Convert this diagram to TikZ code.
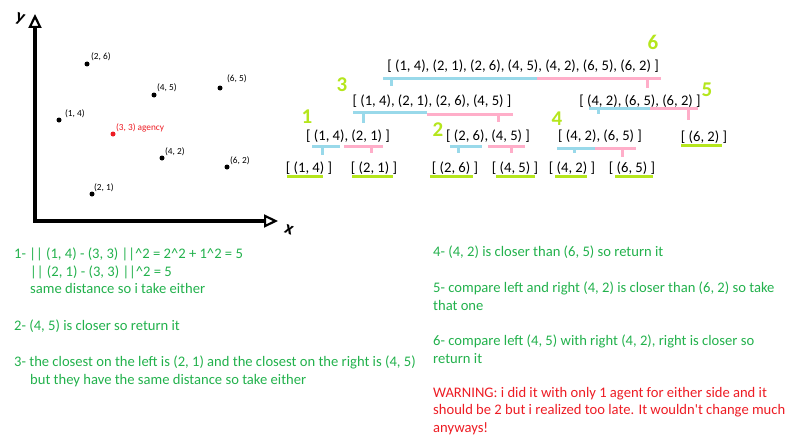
\documentclass[tikz,border=0pt]{standalone}
\usepackage{fontspec}
\setmainfont{Carlito}
\usetikzlibrary{arrows.meta,positioning}
\definecolor{notegreen}{RGB}{34,177,76}
\definecolor{warnred}{RGB}{237,28,36}
\definecolor{lime}{RGB}{181,230,29}
\definecolor{lineblue}{RGB}{153,217,234}
\definecolor{linepink}{RGB}{255,174,201}
\tikzset{
    dot/.style={circle, fill=black, inner sep=0pt, minimum size=5pt},
    ptlabel/.style={inner sep=0pt, font=\fontsize{9.3}{11}\selectfont},
    listnode/.style={inner sep=0pt, font=\fontsize{14.6}{17.5}\selectfont},
    note/.style={inner sep=0pt, anchor=north west, align=left, text=notegreen, font=\fontsize{14.6}{17.5}\selectfont},
    stepnum/.style={inner sep=0pt, text=lime, font=\fontsize{21}{21}\bfseries\selectfont},
    leftpart/.style={lineblue, line width=3pt},
    rightpart/.style={linepink, line width=3pt},
    leafline/.style={lime, line width=3pt},
    axis/.style={line width=3.5pt,
        {Triangle[open, length=14pt, width=13pt, line width=2.2pt]}-{Triangle[open, length=14pt, width=13pt, line width=2.2pt]}},
    axislabel/.style={inner sep=0pt, font=\fontsize{18}{18}\bfseries\selectfont}
}
\begin{document}
\begin{tikzpicture}[x=1pt, y=-1pt]
    \useasboundingbox (0,0) rectangle (800,444);

    % axes
    \coordinate (origin) at (35,221);
    \coordinate (ytop) at (35,14);
    \coordinate (xend) at (278,221);
    \draw[axis] (ytop) -- (origin) -- (xend);
    \node[axislabel, rotate=-20] (ylab) at (20,19) {y};
    \node[axislabel, rotate=-20] (xlab) at (289,230) {x};

    % points
    \node[dot] (d26) at (87,64) {};
    \node[dot] (d45) at (154,95) {};
    \node[dot] (d65) at (220,88) {};
    \node[dot] (d14) at (59,120) {};
    \node[dot, fill=warnred] (d33) at (113,134) {};
    \node[dot] (d42) at (162,158) {};
    \node[dot] (d62) at (227,167) {};
    \node[dot] (d21) at (92,194) {};
    \node[ptlabel, above right=1pt and 2pt of d26] {(2, 6)};
    \node[ptlabel, above right=1pt and 1pt of d45] {(4, 5)};
    \node[ptlabel, above right=3pt and 5pt of d65] {(6, 5)};
    \node[ptlabel, above right=0pt and 4pt of d14] {(1, 4)};
    \node[ptlabel, above right=0pt and 1pt of d33, text=warnred] {(3, 3) agency};
    \node[ptlabel, above right=0pt and 1pt of d42] {(4, 2)};
    \node[ptlabel, above right=0pt and 1pt of d62] {(6, 2)};
    \node[ptlabel, above right=0pt and 0pt of d21] {(2, 1)};

    % split tree
    \node[listnode] (all7) at (523,66) {[ (1, 4), (2, 1), (2, 6), (4, 5), (4, 2), (6, 5), (6, 2) ]};
    \node[listnode] (left4) at (432,101) {[ (1, 4), (2, 1), (2, 6), (4, 5) ]};
    \node[listnode] (right3) at (640,101) {[ (4, 2), (6, 5), (6, 2) ]};
    \node[listnode] (s1421) at (348,136) {[ (1, 4), (2, 1) ]};
    \node[listnode] (s2645) at (488,136) {[ (2, 6), (4, 5) ]};
    \node[listnode] (s4265) at (600,136) {[ (4, 2), (6, 5) ]};
    \node[listnode] (s62) at (704,137) {[ (6, 2) ]};
    \node[listnode] (s14) at (309,168) {[ (1, 4) ]};
    \node[listnode] (s21) at (374,168) {[ (2, 1) ]};
    \node[listnode] (s26) at (455,168) {[ (2, 6) ]};
    \node[listnode] (s45) at (515,168) {[ (4, 5) ]};
    \node[listnode] (s42) at (572,168) {[ (4, 2) ]};
    \node[listnode] (s65) at (632,168) {[ (6, 5) ]};

    % halves
    \draw[leftpart] (383,78) -- (537,78) (391,78) -- (391,86);
    \draw[rightpart] (537,78) -- (661,78) (647,78) -- (647,88);
    \draw[leftpart] (353,112) -- (427,112) (363,112) -- (363,123);
    \draw[rightpart] (427,114) -- (513,114) (498,114) -- (498,122);
    \draw[leftpart] (589,108) -- (650,108) (598,108) -- (598,114);
    \draw[rightpart] (650,108) -- (698,108) (688,108) -- (688,120);
    \draw[leftpart] (312,146) -- (340,146) (322,146) -- (322,155);
    \draw[rightpart] (344,146) -- (383,146) (371,146) -- (371,153);
    \draw[leftpart] (450,146) -- (482,146) (458,146) -- (458,153);
    \draw[rightpart] (488,146) -- (525,146) (511,146) -- (511,153);
    \draw[leftpart] (557,148) -- (595,148) (574,148) -- (574,153);
    \draw[rightpart] (595,148) -- (636,148) (622,148) -- (622,157);
    \draw[leafline] (681,145) -- (722,145);
    \draw[leafline] (287,176) -- (323,176);
    \draw[leafline] (352,176) -- (393,176);
    \draw[leafline] (430,176) -- (473,176);
    \draw[leafline] (496,176) -- (535,176);
    \draw[leafline] (555,176) -- (587,176);
    \draw[leafline] (615,176) -- (653,176);

    % step numbers
    \node[stepnum] (step1) at (307,117) {1};
    \node[stepnum] (step2) at (438,130) {2};
    \node[stepnum] (step3) at (342,85) {3};
    \node[stepnum] (step4) at (557,119) {4};
    \node[stepnum] (step5) at (707,90) {5};
    \node[stepnum] (step6) at (653,42) {6};

    % notes
    \node[note] (note1) at (14,248) {1- || (1, 4) - (3, 3) ||\textasciicircum2 = 2\textasciicircum2 + 1\textasciicircum2 = 5\\
        \hspace*{16pt}|| (2, 1) - (3, 3) ||\textasciicircum2 = 5\\
        \hspace*{16pt}same distance so i take either};
    \node[note] (note2) at (14,320) {2- (4, 5) is closer so return it};
    \node[note] (note3) at (14,356) {3- the closest on the left is (2, 1) and the closest on the right is (4, 5)\\
        \hspace*{16pt}but they have the same distance so take either};
    \node[note] (note4) at (433,246) {4- (4, 2) is closer than (6, 5) so return it};
    \node[note] (note5) at (433,282) {5- compare left and right (4, 2) is closer than (6, 2) so take\\that one};
    \node[note] (note6) at (433,335) {6- compare left (4, 5) with right (4, 2), right is closer so\\return it};
    \node[note, text=warnred] (warning) at (433,387) {WARNING: i did it with only 1 agent for either side and it\\should be 2 but i realized too late. It wouldn\textquotesingle t change much\\anyways!};
\end{tikzpicture}
\end{document}
